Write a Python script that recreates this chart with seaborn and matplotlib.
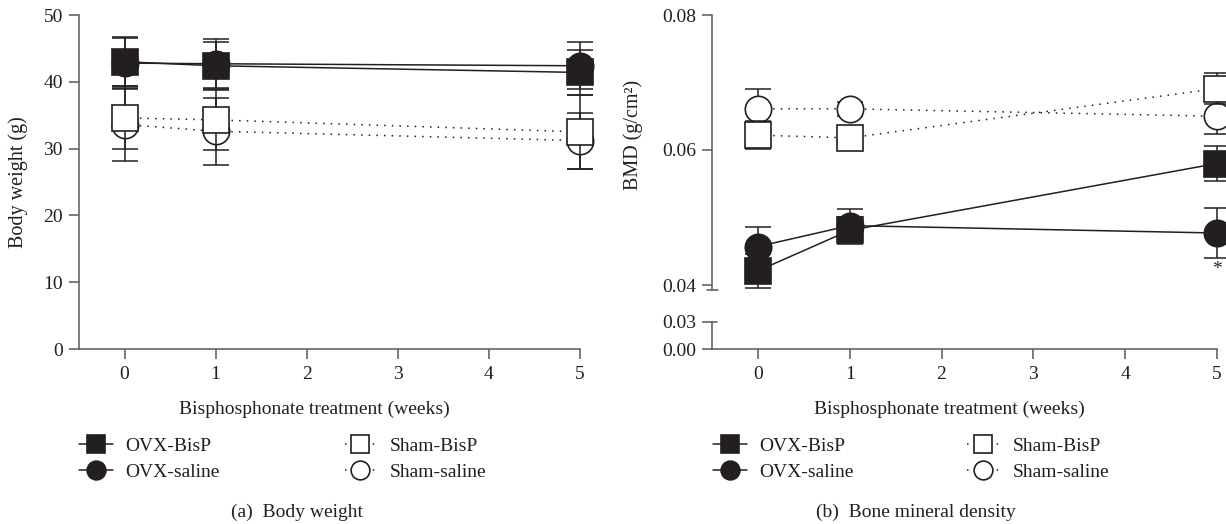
import matplotlib
matplotlib.use("Agg")
import matplotlib.pyplot as plt
import seaborn as sns
import pandas as pd
from matplotlib.lines import Line2D

# ---------------- data ----------------
weeks = [0, 1, 5]
groups = ["OVX-BisP", "OVX-saline", "Sham-BisP", "Sham-saline"]

# Body weight (g)
bw_ovx_bisp = [43.0, 42.4, 41.4]
bw_ovx_bisp_err = [3.6, 3.5, 3.4]
bw_ovx_saline = [42.8, 42.7, 42.4]
bw_ovx_saline_err = [3.9, 3.7, 3.5]
bw_sham_bisp = [34.6, 34.3, 32.5]
bw_sham_bisp_err = [4.7, 4.5, 5.5]
bw_sham_saline = [33.6, 32.6, 31.2]
bw_sham_saline_err = [5.5, 5.0, 4.2]

# Bone mineral density (g/cm^2)
bmd_ovx_bisp = [0.0421, 0.0481, 0.0580]
bmd_ovx_bisp_err = [0.0025, 0.0020, 0.0026]
bmd_ovx_saline = [0.0457, 0.0488, 0.0477]
bmd_ovx_saline_err = [0.0029, 0.0024, 0.0037]
bmd_sham_bisp = [0.0622, 0.0618, 0.0691]
bmd_sham_bisp_err = [0.0021, 0.0010, 0.0023]
bmd_sham_saline = [0.0661, 0.0661, 0.0650]
bmd_sham_saline_err = [0.0029, 0.0010, 0.0026]

bw_ticks = [0, 10, 20, 30, 40, 50]
bmd_top_ticks = [0.04, 0.06, 0.08]
bmd_bottom_ticks = [0.00, 0.03]
week_ticks = [0, 1, 2, 3, 4, 5]

xlabel = "Bisphosphonate treatment (weeks)"
caption_a = "(a)  Body weight"
caption_b = "(b)  Bone mineral density"

# ---------------- style ----------------
sns.set_theme(style="ticks")
plt.rcParams["font.family"] = ["Liberation Serif", "DejaVu Serif"]
INK = "#231f20"
SPINE = "#58595b"
FS = 14
plt.rcParams.update({
    "axes.edgecolor": SPINE, "axes.linewidth": 1.1,
    "xtick.color": SPINE, "ytick.color": SPINE,
    "xtick.labelcolor": INK, "ytick.labelcolor": INK,
    "xtick.major.size": 7.5, "ytick.major.size": 7.5,
    "xtick.major.width": 1.1, "ytick.major.width": 1.1,
    "xtick.labelsize": FS, "ytick.labelsize": FS,
    "xtick.major.pad": 4.5, "ytick.major.pad": 4,
    "text.color": INK, "axes.labelcolor": INK,
})

W, H = 1226, 524
fig = plt.figure(figsize=(W / 100, H / 100), dpi=100)


def rect(x0, y0, x1, y1):
    return [x0 / W, 1 - y1 / H, (x1 - x0) / W, (y1 - y0) / H]


ax_a = fig.add_axes(rect(79, 15, 580, 349))
ax_bt = fig.add_axes(rect(712, 15, 1217, 290))
ax_bb = fig.add_axes(rect(712, 322, 1217, 349))

styles = {
    "OVX-BisP": dict(marker="s", mfc=INK, ls="-"),
    "OVX-saline": dict(marker="o", mfc=INK, ls="-"),
    "Sham-BisP": dict(marker="s", mfc="white", ls=(0, (1, 4))),
    "Sham-saline": dict(marker="o", mfc="white", ls=(0, (1, 4))),
}
draw_order = ["Sham-saline", "Sham-BisP", "OVX-saline", "OVX-BisP"]

series_a = {
    "OVX-BisP": (bw_ovx_bisp, bw_ovx_bisp_err),
    "OVX-saline": (bw_ovx_saline, bw_ovx_saline_err),
    "Sham-BisP": (bw_sham_bisp, bw_sham_bisp_err),
    "Sham-saline": (bw_sham_saline, bw_sham_saline_err),
}
series_b = {
    "OVX-BisP": (bmd_ovx_bisp, bmd_ovx_bisp_err),
    "OVX-saline": (bmd_ovx_saline, bmd_ovx_saline_err),
    "Sham-BisP": (bmd_sham_bisp, bmd_sham_bisp_err),
    "Sham-saline": (bmd_sham_saline, bmd_sham_saline_err),
}


def draw(ax, series):
    z = 3
    for g in draw_order:
        vals, errs = series[g]
        st = styles[g]
        eb = ax.errorbar(weeks, vals, yerr=errs, fmt="none", ecolor=INK,
                         elinewidth=1.1, capsize=9.5, capthick=1.1, zorder=z)
        for art in list(eb.lines[1]) + list(eb.lines[2]):
            art.set_clip_on(False)
        df = pd.DataFrame({"week": weeks, "value": vals})
        sns.lineplot(data=df, x="week", y="value", ax=ax, errorbar=None,
                     color=INK, lw=1.1, linestyle=st["ls"], marker=st["marker"],
                     markersize=19, markerfacecolor=st["mfc"],
                     markeredgecolor=INK, markeredgewidth=1.2,
                     clip_on=False, zorder=z + 1)
        z += 2


draw(ax_a, series_a)
draw(ax_bt, series_b)

# --- panel a axes ---
ax_a.set_xlim(-0.5, 5)
ax_a.set_ylim(0, 50)
ax_a.set_yticks(bw_ticks)
ax_a.set_xticks(week_ticks)
ax_a.set_ylabel("Body weight (g)", fontsize=FS + 0.5)
ax_a.set_xlabel(xlabel, fontsize=FS)
ax_a.xaxis.set_label_coords(0.47, -52 / 334)
ax_a.yaxis.set_label_coords(-51 / 501, 0.5)
sns.despine(ax=ax_a)

# --- panel b axes (broken y-axis) ---
top_low = 0.04 - 5 * 0.04 / 270
ax_bt.set_xlim(-0.5, 5)
ax_bt.set_ylim(top_low, 0.08)
ax_bt.set_yticks(bmd_top_ticks)
ax_bt.set_yticklabels([f"{v:.2f}" for v in bmd_top_ticks])
ax_bt.set_xticks([])
ax_bt.set_xlabel("")
ax_bt.set_ylabel("BMD (g/cm²)", fontsize=FS + 0.5)
ax_bt.yaxis.set_label_coords(-69 / 505, (290 - 135) / 275)
sns.despine(ax=ax_bt, bottom=True)
ax_bt.text(5, 0.0423, "*", ha="center", va="center", fontsize=14, color=INK)

ax_bb.set_xlim(-0.5, 5)
ax_bb.set_ylim(0, 0.03)
ax_bb.set_yticks(bmd_bottom_ticks)
ax_bb.set_yticklabels([f"{v:.2f}" for v in bmd_bottom_ticks])
ax_bb.set_xticks(week_ticks)
ax_bb.set_xlabel(xlabel, fontsize=FS)
ax_bb.xaxis.set_label_coords(0.47, -52 / 27)
ax_bb.set_ylabel("")
ax_bb.patch.set_alpha(0)
sns.despine(ax=ax_bb)

# break marks
ax_bt.plot([-5 / 505, 6 / 505], [0, 0], transform=ax_bt.transAxes,
           color=SPINE, lw=1.1, clip_on=False)
ax_bb.plot([0, 5 / 505], [1, 1], transform=ax_bb.transAxes,
           color=SPINE, lw=1.1, clip_on=False)

# ---------------- legends ----------------
def handle(g, hl, ms=13.5):
    st = styles[g]
    ls = st["ls"]
    if ls != "-":
        # one dot near each end of the handle
        period = hl * FS / 1.1 - 1.6
        ls = (0, (1, period - 1))
    return Line2D([], [], color=INK, lw=1.1, linestyle=ls, marker=st["marker"],
                  markersize=ms, markerfacecolor=st["mfc"], markeredgecolor=INK,
                  markeredgewidth=1.2)


def put_legend(names, x_px, y_px, hl, pad):
    leg = fig.legend([handle(g, hl) for g in names], names, loc="center left",
                     bbox_to_anchor=(x_px / W, 1 - y_px / H), frameon=False,
                     borderpad=0, borderaxespad=0, handlelength=hl,
                     handletextpad=pad, labelspacing=0.42, fontsize=FS)
    for t in leg.get_texts():
        t.set_color(INK)
    return leg


put_legend(["OVX-BisP", "OVX-saline"], 79, 459, 1.75, 0.62)
put_legend(["Sham-BisP", "Sham-saline"], 345, 459, 1.55, 0.75)
put_legend(["OVX-BisP", "OVX-saline"], 713, 459, 1.75, 0.62)
put_legend(["Sham-BisP", "Sham-saline"], 967, 459, 1.65, 0.7)

fig.text(297 / W, 1 - 512 / H, caption_a, ha="center", va="center", fontsize=FS)
fig.text(916 / W, 1 - 512 / H, caption_b, ha="center", va="center", fontsize=FS)

fig.savefig("out.png", dpi=100)
